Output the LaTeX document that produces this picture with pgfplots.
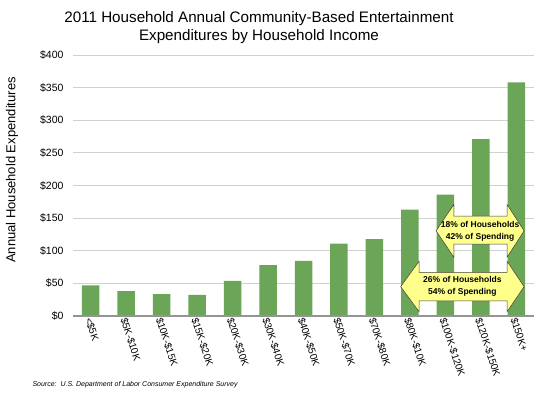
\documentclass[border=0pt]{standalone}
\usepackage{pgfplots}
\pgfplotsset{compat=1.18}
\usepackage{fontspec}
\setmainfont{Liberation Sans}
\definecolor{bargreen}{RGB}{106,165,88}
\definecolor{arrowyellow}{RGB}{255,255,140}
\begin{document}
\begin{tikzpicture}
\begin{axis}[
  at={(0pt,0pt)}, anchor=south west,
  scale only axis, width=461pt, height=261pt,
  xmin=-0.5, xmax=12.5, ymin=0, ymax=400,
  ytick={0,50,100,150,200,250,300,350,400},
  yticklabel={\$\pgfmathprintnumber{\tick}},
  /pgf/number format/assume math mode=true,
  xtick={0,...,12},
  xticklabels={<\$5K,\$5K-\$10K,\$10K-\$15K,\$15K-\$20K,\$20K-\$30K,\$30K-\$40K,\$40K-\$50K,\$50K-\$70K,\$70K-\$80K,\$80K-\$10K,\$100K-\$120K,\$120K-\$150K,\$150K+},
  xticklabel style={rotate=-72, anchor=west, font=\fontsize{10}{12}\selectfont, inner sep=1pt, yshift=-3pt},
  yticklabel style={font=\fontsize{10.5}{12}\selectfont, xshift=-6pt},
  major tick length=0pt,
  ymajorgrids, grid style={draw=black!18, line width=0.8pt},
  axis line style={draw=none},
  clip=false,
]
\addplot[ybar, bar width=17.5pt, fill=bargreen, draw=none] coordinates {
(0,47) (1,38) (2,33.5) (3,32.5) (4,54) (5,78) (6,84.5) (7,111) (8,118) (9,163) (10,186) (11,271) (12,358)};
\draw[black!42, line width=1.3pt] (rel axis cs:0,0) -- (rel axis cs:1,0);
\draw[fill=arrowyellow, draw=black!75, line width=0.5pt]
 (9.74,130.5) -- (10.24,171) -- (10.24,153) -- (11.74,153) -- (11.74,171) -- (12.22,130.5) -- (11.74,90) -- (11.74,110) -- (10.24,110) -- (10.24,90) -- cycle;
\node[align=center, font=\fontsize{8.5}{12}\selectfont\bfseries] at (10.98,130.5) {18\% of Households\\42\% of Spending};
\draw[fill=arrowyellow, draw=black!75, line width=0.5pt]
 (8.74,45) -- (9.26,84) -- (9.26,67) -- (11.74,67) -- (11.74,84) -- (12.22,45) -- (11.74,6.5) -- (11.74,23) -- (9.26,23) -- (9.26,6.5) -- cycle;
\node[align=center, font=\fontsize{8.5}{12}\selectfont\bfseries] at (10.48,45) {26\% of Households\\54\% of Spending};
\end{axis}
\node[align=center, font=\fontsize{15.2}{18}\selectfont] at (186pt,288pt) {2011 Household Annual Community-Based Entertainment\\Expenditures by Household Income};
\node[rotate=90, font=\fontsize{13}{15}\selectfont] at (-61pt,146pt) {Annual Household Expenditures};
\node[anchor=west, font=\fontsize{7}{8}\selectfont\itshape] at (-44pt,-69pt) {Source:\ \ U.S. Department of Labor Consumer Expenditure Survey};
\pgfresetboundingbox
\path[use as bounding box] (-73pt,-80pt) rectangle (467pt,316pt);
\end{tikzpicture}
\end{document}
